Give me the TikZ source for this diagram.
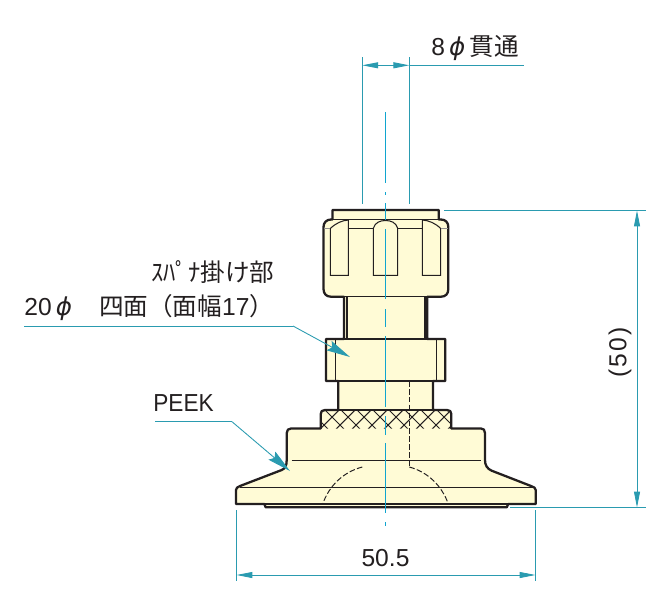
\documentclass[tikz,border=0pt]{standalone}
\usepackage{fontspec}
\setmainfont{Liberation Sans}
\newfontfamily\jpfont{Noto Sans CJK JP}
\newfontfamily\widefont[LetterSpace=9]{Liberation Sans}
\newfontfamily\phifont{DejaVu Sans}
\usepackage{xcolor}
\usetikzlibrary{arrows.meta}
\definecolor{partfill}{HTML}{FFFBD6}
\definecolor{dimcol}{HTML}{2A9BB0}
\definecolor{axiscol}{HTML}{10A5CF}
\definecolor{inkcol}{HTML}{231F20}
\newcommand{\dia}{{\phifont\itshape ϕ}}
\tikzset{
  outline/.style={draw=inkcol, line width=1.3pt, fill=partfill, line join=round},
  inner/.style={draw=inkcol, line width=0.6pt},
  hidden/.style={draw=inkcol, line width=0.55pt, dash pattern=on 3.2pt off 1.3pt},
  axis/.style={draw=axiscol, line width=0.6pt},
  dimline/.style={draw=dimcol, line width=0.5pt},
  dimarrow/.style={dimline, {Triangle[length=9pt,width=3.4pt]}-{Triangle[length=9pt,width=3.4pt]}},
  leadarrow/.style={dimline, -{Stealth[length=13.5pt,width=6pt,inset=2pt]}},
  lbl/.style={inner sep=0pt, text=inkcol, font=\fontsize{14}{16}\selectfont},
  jplbl/.style={inner sep=0pt, text=inkcol, font=\jpfont\fontsize{14}{16}\selectfont}
}
\begin{document}
\begin{tikzpicture}[x=0.02cm, y=-0.02cm]
  \useasboundingbox (0,0) rectangle (661,595);
  % silhouette
  \path[outline] (332.5,219.5) -- (332.5,210) -- (438.7,210) -- (438.7,219.5) -- (441,219.5) .. controls (445.5,219.5) and (448.3,222.5) .. (448.3,227) -- (448.3,289) .. controls (448.3,294) and (445.5,296.7) .. (441,296.7) -- (427.3,296.7) -- (427.3,339) -- (445.3,339) -- (445.3,381) -- (433,381) -- (433,410) -- (447,410) .. controls (450,410) and (451.3,411.5) .. (451.3,414) -- (451.3,428.5) -- (481,428.5) .. controls (483.5,428.5) and (485,430) .. (485,433) -- (485,460) .. controls (485,465) and (487,468.7) .. (491.7,470.7) -- (531,486) .. controls (534,487) and (535.7,488) .. (535.7,490) -- (535.7,504) -- (508.3,504) -- (506.7,507.3) -- (265.7,507.3) -- (264.3,504) -- (236,504) -- (236,490) .. controls (236,488) and (237.5,487) .. (240,486) -- (281.7,470) .. controls (285,468.5) and (286.7,466) .. (286.7,460) -- (286.7,433) .. controls (286.7,430) and (288.5,428.5) .. (291,428.5) -- (320.7,428.5) -- (320.7,414) .. controls (320.7,411.5) and (322,410) .. (325,410) -- (338.3,410) -- (338.3,381) -- (326,381) -- (326,339) -- (344,339) -- (344,296.7) -- (331,296.7) .. controls (326.5,296.7) and (323.5,294) .. (323.5,289) -- (323.5,227) .. controls (323.5,222.5) and (326.5,219.5) .. (331,219.5) -- cycle;
  % knurl
  \begin{scope}
    \clip (320.7,414) .. controls (320.7,411.5) and (322,410) .. (325,410) -- (447,410) .. controls (450,410) and (451.3,411.5) .. (451.3,414) -- (451.3,428.5) -- (320.7,428.5) -- cycle;
    \foreach \x in {292,308,...,484} {
      \draw[inner] (\x,409) -- ++(20,20);
      \draw[inner] (\x,409) -- ++(-20,20);
    }
  \end{scope}
  % inside of nut
  \draw[inner] (330.3,228.5) .. controls (336,223) and (342,220.5) .. (348.3,220) -- (348.3,275.3) -- (330.3,275.3) -- cycle;
  \draw[inner] (422.3,220) .. controls (429,220.5) and (435,223) .. (440.7,228.5) -- (440.7,275.3) -- (422.3,275.3) -- cycle;
  \draw[inner] (373.3,275.3) -- (373.3,228.3) .. controls (375,222.5) and (380,220.5) .. (385.5,220.5) .. controls (391,220.5) and (396,222.5) .. (397.7,228.3) -- (397.7,275.3) -- cycle;
  \draw[inner] (348.3,228.3) -- (373.3,228.3) (397.7,228.3) -- (422.3,228.3);
  \draw[inner, draw=inkcol!50] (323.5,228.3) -- (330.3,228.3) (440.7,228.3) -- (448.3,228.3);
  % lines
  \foreach \x in {347,425}
    \draw[inner] (\x,296.7) -- (\x,339);
  \foreach \x in {335.7,436.7}
    \draw[inner] (\x,339) -- (\x,381);
  \draw[inner] (332.5,219.5) -- (438.7,219.5);
  \draw[inner] (344,296.7) -- (427.3,296.7);
  \draw[inner] (344,339) -- (427.3,339);
  \draw[inner] (338.3,381) -- (433,381);
  \draw[inner] (338.3,410) -- (433,410);
  \draw[inner] (291.7,460.3) -- (481,460.3);
  \draw[inner] (240,487.3) -- (533,487.3);
  \draw[inner] (264.3,504) -- (508.3,504);
  % hidden
  \draw[hidden] (409.3,381) -- (409.3,467);
  \draw[hidden] (409.3,467) .. controls (428,472) and (442,486) .. (448.3,504);
  \draw[hidden] (362.3,467) .. controls (343,472) and (329,486) .. (322.7,504);
  % axis
  \foreach \a/\b in {112/183,192/195,203/220,229/299,309/327,336/407,416/435,443/513,522/526}
    \draw[axis] (385.3,\a) -- (385.3,\b);
  % dimensions
  \coordinate (ext8a) at (362.3,57);
  \coordinate (ext8b) at (409.3,57);
  \coordinate (end8a) at (362.3,204);
  \coordinate (end8b) at (409.3,204);
  \coordinate (tip8a) at (362.3,65.3);
  \coordinate (tip8b) at (409.3,65.3);
  \coordinate (run8) at (524,65.3);
  \draw[dimline] (ext8a) -- (end8a);
  \draw[dimline] (ext8b) -- (end8b);
  \draw[dimarrow] (tip8a) -- (tip8b);
  \draw[dimline] (tip8b) -- (run8);
  \node[lbl, anchor=base west] (hole) at (431,55) {8\,\dia\,{\jpfont 貫通}};

  \coordinate (topa) at (444,210.5);
  \coordinate (topb) at (646,210.5);
  \coordinate (bota) at (510,507.5);
  \coordinate (botb) at (646,507.5);
  \coordinate (tip50a) at (637,210.5);
  \coordinate (tip50b) at (637,507.5);
  \draw[dimline] (topa) -- (topb);
  \draw[dimline] (bota) -- (botb);
  \draw[dimarrow] (tip50a) -- (tip50b);
  \node[lbl, rotate=90] (height) at (620,352.5) {\widefont (50)};

  \coordinate (wida) at (236.5,510);
  \coordinate (widb) at (535.5,510);
  \coordinate (wida2) at (236.5,581);
  \coordinate (widb2) at (535.5,581);
  \coordinate (tipwa) at (236.5,575);
  \coordinate (tipwb) at (535.5,575);
  \draw[dimline] (wida) -- (wida2);
  \draw[dimline] (widb) -- (widb2);
  \draw[dimarrow] (tipwa) -- (tipwb);
  \node[lbl] (width) at (385.5,558) {50.5};

  % leaders
  \node[jplbl, anchor=base west] (spanner) at (151,281) {ｽﾊﾟﾅ掛け部};
  \node[lbl, anchor=base west] (flats) at (24,315) {20\,\dia\hspace{1.1em}{\jpfont 四面（面幅}17{\jpfont ）}};
  \coordinate (flata) at (24,326);
  \coordinate (flatb) at (293,326);
  \coordinate (flatc) at (350,357);
  \draw[dimline] (flata) -- (flatb);
  \draw[leadarrow] (flatb) -- (flatc);
  \node[lbl, anchor=base west, xscale=0.92] (peek) at (153,411) {PEEK};
  \coordinate (peeka) at (155,421.7);
  \coordinate (peekb) at (232,421.7);
  \coordinate (peekc) at (290,471);
  \draw[dimline] (peeka) -- (peekb);
  \draw[leadarrow] (peekb) -- (peekc);
\end{tikzpicture}
\end{document}
